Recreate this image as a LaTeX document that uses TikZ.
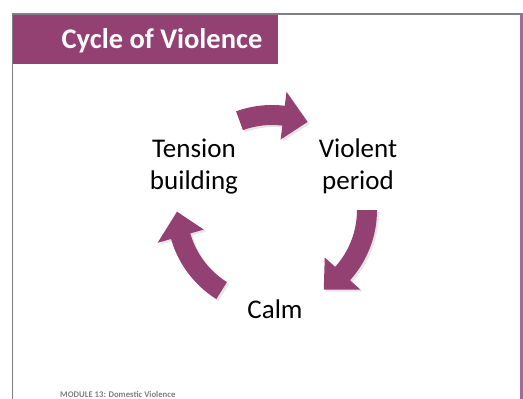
\documentclass[tikz,border=0pt]{standalone}
\usepackage{fontspec}
\setmainfont{Carlito}
\begin{document}
\begin{tikzpicture}[x=1pt,y=-1pt,
  lbl/.style={font=\fontsize{27}{32}\selectfont,align=center,text=black,inner sep=0pt}]
\definecolor{plumc}{RGB}{147,64,115}
\definecolor{barc}{RGB}{155,107,166}
\definecolor{framec}{RGB}{128,128,128}
\useasboundingbox (0,0) rectangle (523,399);
\fill[white] (0,0) rectangle (523,399);
% frame
\fill[framec] (11.5,12.5) rectangle (523,14.5);
\fill[framec] (11.5,12.5) rectangle (13,399);
\fill[barc] (520,14.5) rectangle (523,399);
% title
\fill[plumc] (13,14.5) rectangle (278,64);
\node[font=\fontsize{28.5}{32}\selectfont\bfseries,text=white,anchor=base,inner sep=0pt] (title) at (162,48) {Cycle of Violence};
% labels
\node[lbl,anchor=base] (tb) at (194,189) {Tension\\building};
\node[lbl,anchor=base] (vp) at (358,189) {Violent\\period};
\node[lbl,anchor=base] (calm) at (275,318) {Calm};
% footer
\node[font=\fontsize{8.7}{10}\selectfont\bfseries,text=framec,anchor=base west,inner sep=0pt] (foot) at (60,397) {MODULE 13: Domestic Violence};
% arrows
\def\ro{105}\def\ri{85}\def\rr{95}\def\rh{119}\def\rl{71}
\foreach \a/\b in {-110/-68, 0/57, -238/-181}{
  \pgfmathsetmacro{\cc}{\b-15}
  \begin{scope}[shift={(274,212)}]
  \fill[black!10] (\a:\ro) arc[start angle=\a,end angle=\cc,radius=\ro] -- (\cc:\rh) -- (\b:\rr) -- (\cc:\rl) -- (\cc:\ri) arc[start angle=\cc,end angle=\a,radius=\ri] -- cycle;
  \end{scope}
  \begin{scope}[shift={(272,210)}]
  \fill[plumc] (\a:\ro) arc[start angle=\a,end angle=\cc,radius=\ro] -- (\cc:\rh) -- (\b:\rr) -- (\cc:\rl) -- (\cc:\ri) arc[start angle=\cc,end angle=\a,radius=\ri] -- cycle;
  \end{scope}
}
\end{tikzpicture}
\end{document}
